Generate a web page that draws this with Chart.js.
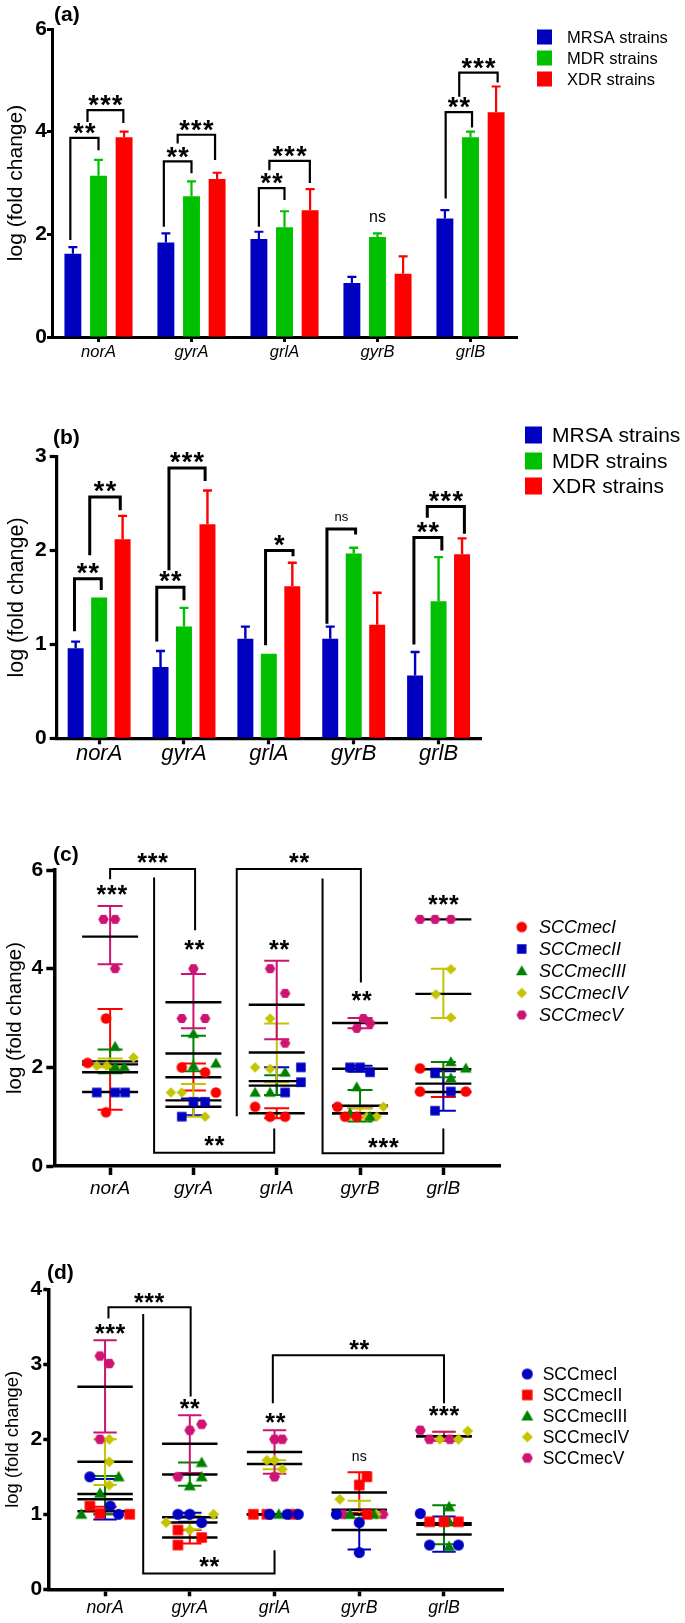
<!DOCTYPE html>
<html><head><meta charset="utf-8">
<script src="https://cdn.jsdelivr.net/npm/chart.js@4.4.0/dist/chart.umd.min.js"></script>
<style>
html,body{margin:0;padding:0;background:#fff;}
body{width:685px;height:1623px;position:relative;overflow:hidden;}
canvas{position:absolute;left:0;}
</style></head><body>
<canvas id="ca" width="685" height="380" style="top:0px"></canvas>
<canvas id="cb" width="685" height="410" style="top:380px"></canvas>
<canvas id="cc" width="685" height="420" style="top:790px"></canvas>
<canvas id="cd" width="685" height="413" style="top:1210px"></canvas>
<script>
// ================= DATA =================
const genes = ['norA', 'gyrA', 'grlA', 'gyrB', 'grlB'];
const groupNames = ['MRSA strains', 'MDR strains', 'XDR strains'];

// panel (a)
const aMRSA    = [1.62, 1.84, 1.91, 1.05, 2.31];
const aMRSAerr = [0.13, 0.18, 0.14, 0.12, 0.16];
const aMDR     = [3.14, 2.74, 2.14, 1.95, 3.89];
const aMDRerr  = [0.31, 0.29, 0.31, 0.07, 0.11];
const aXDR     = [3.89, 3.08, 2.47, 1.23, 4.38];
const aXDRerr  = [0.11, 0.12, 0.41, 0.34, 0.50];
const aYTicks  = [0, 2, 4, 6];
// [gene, left leg (bar slots from MRSA bar), right leg, top, left foot, right foot, label]
const aBrackets = [
  [0, -0.10, 1.00, 3.88, 1.89, 3.64, '**'],
  [0,  0.57, 1.97, 4.42, 4.19, 4.17, '***'],
  [1, -0.08, 1.00, 3.42, 2.15, 3.19, '**'],
  [1,  0.46, 1.92, 3.94, 3.77, 3.45, '***'],
  [2,  0.00, 1.00, 2.90, 2.15, 2.67, '**'],
  [2,  0.41, 1.99, 3.43, 3.25, 3.00, '***'],
  [4,  0.03, 1.06, 4.38, 2.70, 4.08, '**'],
  [4,  0.56, 2.06, 5.15, 4.68, 4.96, '***']
];
const aNotes = [[3, 1, 2.32, 'ns']];

// panel (b)
const bMRSA    = [0.96, 0.76, 1.06, 1.06, 0.67];
const bMRSAerr = [0.07, 0.17, 0.13, 0.13, 0.25];
const bMDR     = [1.50, 1.19, 0.90, 1.97, 1.46];
const bMDRerr  = [0.00, 0.20, 0.00, 0.06, 0.47];
const bXDR     = [2.12, 2.28, 1.62, 1.21, 1.96];
const bXDRerr  = [0.25, 0.36, 0.25, 0.34, 0.17];
const bYTicks  = [0, 1, 2, 3];
const bBrackets = [
  [0, -0.05, 1.09, 1.70, 1.14, 1.58, '**'],
  [0,  0.60, 1.90, 2.57, 1.95, 2.43, '**'],
  [1, -0.16, 1.00, 1.61, 1.03, 1.47, '**'],
  [1,  0.36, 1.90, 2.88, 1.79, 2.74, '***'],
  [2,  0.86, 2.03, 2.00, 0.99, 1.94, '*'],
  [3, -0.14, 1.08, 2.23, 1.22, 2.17, 'ns'],
  [4, -0.05, 1.14, 2.14, 1.00, 2.00, '**'],
  [4,  0.52, 2.10, 2.47, 2.35, 2.18, '***']
];
const bNotes = [];

// panel (c)  points: [gene, jitter, log fold change]
const cTypes = ['SCCmecI', 'SCCmecII', 'SCCmecIII', 'SCCmecIV', 'SCCmecV'];
const cTypeI   = [[0,-0.05,2.99],[0,-0.27,2.09],[0,-0.05,1.09],[1,-0.14,2.00],[1,0.14,1.90],[1,0.27,1.49],[2,-0.26,1.20],[2,-0.08,1.00],[2,0.10,1.00],[3,-0.27,1.20],[3,-0.18,1.00],[3,-0.04,1.00],[4,-0.28,1.98],[4,-0.28,1.51],[4,0.27,1.51]];
const cTypeII  = [[0,-0.16,1.49],[0,0.06,1.49],[0,0.18,1.49],[1,-0.14,1.00],[1,0.00,1.30],[1,0.14,1.30],[2,0.29,2.00],[2,0.29,1.70],[2,0.10,1.49],[3,-0.12,2.00],[3,0.00,2.00],[3,0.12,1.90],[4,-0.10,1.89],[4,0.09,1.51],[4,-0.10,1.12]];
const cTypeIII = [[0,0.06,2.42],[0,0.06,2.01],[0,0.17,2.01],[1,0.00,2.68],[1,0.27,2.08],[1,0.00,2.03],[2,-0.26,1.49],[2,-0.08,1.49],[2,0.10,1.90],[3,-0.04,1.60],[3,-0.12,1.07],[3,0.12,1.00],[4,0.09,2.11],[4,0.27,1.98],[4,0.09,1.78]];
const cTypeIV  = [[0,-0.16,2.03],[0,-0.04,2.03],[0,0.28,2.20],[1,-0.27,1.49],[1,-0.14,1.49],[1,0.14,1.00],[2,-0.08,2.99],[2,-0.26,2.00],[2,-0.08,1.97],[3,0.28,1.20],[3,0.20,1.00],[3,0.08,1.00],[4,0.09,3.99],[4,-0.09,3.48],[4,0.09,3.01]];
const cTypeV   = [[0,-0.08,5.00],[0,0.06,5.00],[0,0.06,4.00],[1,-0.14,2.99],[1,0.14,2.99],[1,0.00,4.00],[2,-0.08,4.00],[2,0.10,3.50],[2,0.10,2.49],[3,-0.04,2.79],[3,0.04,2.99],[3,0.12,2.89],[4,-0.28,5.00],[4,-0.10,5.00],[4,0.09,5.00]];
// summaries: [gene, mean, lower SD, upper SD]
const cStatI   = [[0,2.06,1.14,3.18],[1,1.80,1.53,2.08],[2,1.07,0.97,1.17],[3,1.07,0.97,1.17],[4,1.67,1.40,1.97]];
const cStatII  = [[0,1.50,1.50,1.50],[1,1.20,1.03,1.37],[2,1.72,1.44,2.00],[3,1.97,1.91,2.03],[4,1.50,1.12,1.92]];
const cStatIII = [[0,2.12,1.88,2.36],[1,2.28,1.92,2.64],[2,1.63,1.44,1.84],[3,1.22,0.90,1.54],[4,1.96,1.80,2.11]];
const cStatIV  = [[0,1.90,2.00,2.18],[1,1.33,1.00,1.66],[2,2.30,1.70,2.89],[3,1.07,0.97,1.17],[4,3.49,3.00,4.00]];
const cStatV   = [[0,4.65,4.09,5.27],[1,3.32,2.79,3.89],[2,3.27,2.57,4.16],[3,2.90,2.79,3.00],[4,5.00,5.00,5.00]];
const cYTicks  = [0, 2, 4, 6];
const cBrackets = [
  [[0,5.81],[0,6.02],[1.02,6.02],[1.02,4.78]],
  [[0.528,5.85],[0.528,0.27],[1.97,0.27],[1.97,0.76]],
  [[1.52,1.01],[1.52,6.02],[3.01,6.02],[3.01,3.72]],
  [[2.55,5.83],[2.55,0.26],[4.0,0.26],[4.0,0.76]]
];
const cBracketLabels = [[0.51,6.26,'***'],[1.25,0.53,'**'],[2.27,6.26,'**'],[3.28,0.49,'***']];
const cGroupLabels = [[0.02,5.61,'***'],[1.01,4.50,'**'],[2.03,4.50,'**'],[3.02,3.47,'**'],[4.0,5.41,'***']];

// panel (d)
const dTypes = ['SCCmecI', 'SCCmecII', 'SCCmecIII', 'SCCmecIV', 'SCCmecV'];
const dTypeI   = [[0,-0.18,1.50],[0,0.06,1.11],[0,0.16,1.00],[1,-0.14,1.00],[1,0.00,1.00],[1,0.14,0.89],[2,-0.06,1.00],[2,0.15,1.00],[2,0.28,1.00],[3,-0.27,1.00],[3,0.00,0.89],[3,0.00,0.49],[4,-0.28,1.01],[4,-0.17,0.59],[4,0.17,0.59]];
const dTypeII  = [[0,-0.18,1.11],[0,-0.06,1.01],[0,0.29,1.00],[1,-0.14,0.79],[1,-0.14,0.59],[1,0.14,0.69],[2,-0.25,1.00],[2,-0.09,1.00],[2,0.22,1.00],[3,0.09,1.50],[3,0.00,1.39],[3,0.09,1.00],[4,-0.17,0.90],[4,0.00,0.90],[4,0.17,0.90]];
const dTypeIII = [[0,-0.28,1.00],[0,-0.06,1.28],[0,0.16,1.50],[1,0.14,1.69],[1,0.14,1.50],[1,0.00,1.38],[2,0.05,1.00],[3,-0.11,1.00],[3,0.17,1.00],[4,0.06,1.10],[4,0.06,0.90],[4,0.06,0.57]];
const dTypeIV  = [[0,0.05,2.00],[0,0.05,1.70],[0,0.05,1.39],[1,-0.28,0.89],[1,0.28,1.00],[1,0.00,0.79],[2,-0.09,1.72],[2,0.00,1.72],[2,0.09,1.60],[3,-0.23,1.20],[3,0.20,1.00],[4,0.28,2.11],[4,-0.05,2.00],[4,0.17,2.00]];
const dTypeV   = [[0,-0.06,3.11],[0,0.05,3.01],[0,-0.06,2.00],[1,0.00,2.12],[1,0.14,2.20],[1,-0.14,1.50],[2,0.00,2.00],[2,0.09,2.00],[2,0.00,1.50],[3,-0.19,1.00],[3,0.28,1.00],[4,-0.28,2.12],[4,-0.17,2.00],[4,0.07,2.00]];
const dStatI   = [[0,1.20,0.93,1.47],[1,0.96,0.90,1.02],[2,1.00,1.00,1.00],[3,0.79,0.53,1.06],[4,0.73,0.50,0.97]];
const dStatII  = [[0,1.04,1.00,1.10],[1,0.69,0.61,0.79],[2,1.00,1.00,1.00],[3,1.29,1.02,1.56],[4,0.88,0.88,0.88]];
const dStatIII = [[0,1.27,1.00,1.51],[1,1.53,1.38,1.69],[2,1.00,1.00,1.00],[3,1.00,1.00,1.00],[4,0.86,0.60,1.12]];
const dStatIV  = [[0,1.70,1.39,2.00],[1,0.89,0.80,0.98],[2,1.67,1.60,1.72],[3,1.06,0.95,1.18],[4,2.04,1.98,2.10]];
const dStatV   = [[0,2.70,2.09,3.32],[1,1.94,1.55,2.32],[2,1.83,1.54,2.12],[3,1.00,1.00,1.00],[4,2.04,1.98,2.10]];
const dYTicks  = [0, 1, 2, 3, 4];
const dBrackets = [
  [[0.04,3.61],[0.04,3.76],[1.01,3.76],[1.01,2.57]],
  [[0.45,3.67],[0.45,0.21],[2.0,0.21],[2.0,0.52]],
  [[1.98,2.48],[1.98,3.12],[4.0,3.12],[4.0,2.48]]
];
const dBracketLabels = [[0.52,3.90,'***'],[1.23,0.38,'**'],[3.0,3.27,'**']];
const dGroupLabels = [[0.06,3.49,'***'],[1.0,2.48,'**'],[2.01,2.30,'**'],[3.0,1.76,'ns'],[4.0,2.39,'***']];

// ================= HELPERS =================
const FONT = "'Liberation Sans', Arial, Helvetica, sans-serif";
Chart.defaults.font.family = FONT;
Chart.defaults.color = '#000';

function marker(shape, color, d) {
  const s = Math.ceil(d + 2);
  const c = document.createElement('canvas'); c.width = s; c.height = s;
  const g = c.getContext('2d'); g.fillStyle = color;
  const m = s / 2, r = d / 2;
  g.beginPath();
  if (shape === 'circle') g.arc(m, m, r, 0, Math.PI * 2);
  else if (shape === 'square') g.rect(m - r, m - r, 2 * r, 2 * r);
  else if (shape === 'triangle') { g.moveTo(m, m - r); g.lineTo(m + r, m + r * 0.75); g.lineTo(m - r, m + r * 0.75); }
  else if (shape === 'diamond') { g.moveTo(m, m - r); g.lineTo(m + r, m); g.lineTo(m, m + r); g.lineTo(m - r, m); }
  else if (shape === 'hexagon') { for (let k = 0; k < 6; k++) { const a = k * Math.PI / 3; const px = m + r * Math.cos(a), py = m + r * Math.sin(a); k ? g.lineTo(px, py) : g.moveTo(px, py); } }
  g.closePath(); g.fill();
  return c;
}

function drawLabel(ctx, lab, cx, cy, P) {
  ctx.fillStyle = '#000';
  if (lab === 'ns') {
    ctx.font = `${P.nsSize}px ${FONT}`; ctx.textAlign = 'center'; ctx.textBaseline = 'middle';
    ctx.fillText('ns', cx, cy); return;
  }
  ctx.font = `bold ${P.starSize}px ${FONT}`; ctx.textAlign = 'center'; ctx.textBaseline = 'alphabetic';
  for (let i = 0; i < lab.length; i++) ctx.fillText('*', cx + (i - (lab.length - 1) / 2) * P.starGap, cy + P.starSize * 0.56);
}

function panelLetter(ctx, P) {
  ctx.fillStyle = '#000'; ctx.font = `bold ${P.letterSize}px ${FONT}`;
  ctx.textAlign = 'left'; ctx.textBaseline = 'middle';
  ctx.fillText(P.letter, P.letterX, P.letterY);
}

function axisOpts(P, isX) {
  return {
    grid: { display: true, drawOnChartArea: false, offset: false, tickLength: isX ? P.xTick : P.yTick, tickWidth: P.axisW, tickColor: '#000' },
    border: { display: true, width: P.axisW, color: '#000' }
  };
}

// ================= BAR PANELS =================
function barChart(id, P) {
  const deco = {
    id: 'barDeco',
    afterDatasetsDraw(chart) {
      const ctx = chart.ctx, y = chart.scales.y;
      ctx.save(); ctx.lineCap = 'butt';
      chart.data.datasets.forEach((ds, di) => {
        chart.getDatasetMeta(di).data.forEach((bar, j) => {
          const e = P.errs[di][j]; if (!e) return;
          const yt = y.getPixelForValue(ds.data[j] + e);
          ctx.strokeStyle = ds.backgroundColor; ctx.lineWidth = P.errW;
          ctx.beginPath(); ctx.moveTo(bar.x, bar.y); ctx.lineTo(bar.x, yt);
          ctx.moveTo(bar.x - P.cap, yt); ctx.lineTo(bar.x + P.cap, yt); ctx.stroke();
        });
      });
      ctx.strokeStyle = '#000'; ctx.lineWidth = P.brW; ctx.lineJoin = 'miter';
      P.brackets.forEach(([g, t1, t2, top, f1, f2, lab]) => {
        const x0 = chart.getDatasetMeta(0).data[g].x, x1 = chart.getDatasetMeta(1).data[g].x;
        const slot = x1 - x0, xa = x0 + t1 * slot, xb = x0 + t2 * slot, yt = y.getPixelForValue(top);
        ctx.beginPath(); ctx.moveTo(xa, y.getPixelForValue(f1)); ctx.lineTo(xa, yt); ctx.lineTo(xb, yt); ctx.lineTo(xb, y.getPixelForValue(f2)); ctx.stroke();
        drawLabel(ctx, lab, (xa + xb) / 2, yt - P.labGap, P);
      });
      P.notes.forEach(([g, b, v, lab]) => drawLabel(ctx, lab, chart.getDatasetMeta(b).data[g].x, y.getPixelForValue(v), P));
      ctx.restore();
    },
    afterDraw(chart) {
      const ctx = chart.ctx; ctx.save();
      chart.data.datasets.forEach((ds, i) => {
        const cy = P.legY[i];
        ctx.fillStyle = ds.backgroundColor; ctx.fillRect(P.legX, cy - P.legSq / 2, P.legSq, P.legSq);
        ctx.fillStyle = '#000'; ctx.font = `${P.legFont}px ${FONT}`; ctx.textAlign = 'left'; ctx.textBaseline = 'middle';
        ctx.fillText(ds.label, P.legTextX, cy + 1);
      });
      panelLetter(ctx, P);
      ctx.restore();
    }
  };
  const xa = axisOpts(P, true), ya = axisOpts(P, false);
  return new Chart(document.getElementById(id), {
    type: 'bar',
    data: {
      labels: genes,
      datasets: P.series.map((s, i) => ({ label: groupNames[i], data: s, backgroundColor: P.colors[i], borderWidth: 0, categoryPercentage: P.catPct, barPercentage: P.barPct }))
    },
    options: {
      responsive: false, animation: false, events: [],
      layout: { padding: P.pad },
      plugins: { legend: { display: false }, tooltip: { enabled: false } },
      scales: {
        x: Object.assign(xa, {
          ticks: { font: { size: P.xFont, style: 'italic' }, color: '#000', padding: P.xPad, maxRotation: 0, autoSkip: false },
          afterFit: s => { s.height = P.xH; }
        }),
        y: Object.assign(ya, {
          min: 0, max: P.yTicks[P.yTicks.length - 1],
          afterBuildTicks: s => { s.ticks = P.yTicks.map(v => ({ value: v })); },
          ticks: { font: { size: P.yFont, weight: 'bold' }, color: '#000', padding: P.yPad },
          title: { display: true, text: 'log (fold change)', font: { size: P.titleSize }, color: '#000', padding: { top: P.titlePad, bottom: 0 } },
          afterFit: s => { s.width = P.yW; }
        })
      }
    },
    plugins: [deco]
  });
}

barChart('ca', {
  series: [aMRSA, aMDR, aXDR], errs: [aMRSAerr, aMDRerr, aXDRerr], brackets: aBrackets, notes: aNotes, yTicks: aYTicks,
  colors: ['#0000C0', '#00C000', '#FF0000'], catPct: 0.826, barPct: 0.66,
  pad: { top: 29, right: 168, bottom: 13, left: 0 }, xH: 30, yW: 52,
  axisW: 3, xTick: 5, yTick: 5, xPad: 1, yPad: 0, xFont: 16.5, yFont: 21, titleSize: 21, titlePad: 4,
  errW: 2.2, cap: 4.5, brW: 2.2, labGap: 11, starSize: 27, starGap: 11.8, nsSize: 16,
  legX: 537, legSq: 15, legTextX: 567, legY: [37, 58, 79], legFont: 16.5,
  letter: '(a)', letterX: 54, letterY: 15, letterSize: 21
});

barChart('cb', {
  series: [bMRSA, bMDR, bXDR], errs: [bMRSAerr, bMDRerr, bXDRerr], brackets: bBrackets, notes: bNotes, yTicks: bYTicks,
  colors: ['#0000C0', '#00C000', '#FF0000'], catPct: 0.83, barPct: 0.68,
  pad: { top: 76.7, right: 204, bottom: 16.7, left: 0 }, xH: 35, yW: 56.7,
  axisW: 3.2, xTick: 6, yTick: 7, xPad: -4, yPad: 3, xFont: 22, yFont: 21, titleSize: 21.5, titlePad: 3.8,
  errW: 2.4, cap: 4.5, brW: 3, labGap: 12, starSize: 27, starGap: 11.8, nsSize: 13,
  legX: 525, legSq: 17, legTextX: 552, legY: [55, 81, 106], legFont: 21,
  letter: '(b)', letterX: 53, letterY: 58, letterSize: 21
});

// ================= SCATTER PANELS =================
function scatterChart(id, P) {
  const deco = {
    id: 'scatDeco',
    beforeDatasetsDraw(chart) {
      const { ctx, scales: { x, y } } = chart;
      ctx.save(); ctx.lineCap = 'butt';
      P.stats.forEach((st, si) => st.forEach(([g, mean, lo, hi]) => {
        if (!(hi > lo)) return;
        const px = x.getPixelForValue(g), yl = y.getPixelForValue(lo), yh = y.getPixelForValue(hi);
        ctx.strokeStyle = P.colors[si]; ctx.lineWidth = P.sdW;
        ctx.beginPath(); ctx.moveTo(px, yl); ctx.lineTo(px, yh);
        ctx.moveTo(px - P.capHalf, yl); ctx.lineTo(px + P.capHalf, yl);
        ctx.moveTo(px - P.capHalf, yh); ctx.lineTo(px + P.capHalf, yh); ctx.stroke();
      }));
      ctx.strokeStyle = '#000'; ctx.lineWidth = P.meanW;
      P.stats.forEach(st => st.forEach(([g, mean]) => {
        const px = x.getPixelForValue(g), py = y.getPixelForValue(mean);
        ctx.beginPath(); ctx.moveTo(px - P.meanHalf, py); ctx.lineTo(px + P.meanHalf, py); ctx.stroke();
      }));
      ctx.restore();
    },
    afterDatasetsDraw(chart) {
      const { ctx, scales: { x, y } } = chart;
      ctx.save(); ctx.strokeStyle = '#000'; ctx.lineWidth = P.brW; ctx.lineJoin = 'miter';
      P.brackets.forEach(pts => {
        ctx.beginPath();
        pts.forEach(([vx, vy], k) => { const px = x.getPixelForValue(vx), py = y.getPixelForValue(vy); k ? ctx.lineTo(px, py) : ctx.moveTo(px, py); });
        ctx.stroke();
      });
      P.bracketLabels.concat(P.groupLabels).forEach(([vx, vy, lab]) => drawLabel(ctx, lab, x.getPixelForValue(vx), y.getPixelForValue(vy), P));
      ctx.restore();
    },
    afterDraw(chart) {
      const ctx = chart.ctx; ctx.save();
      chart.data.datasets.forEach((ds, i) => {
        const cy = P.legY0 + i * P.legStep, img = ds.pointStyle;
        ctx.drawImage(img, P.legX - img.width / 2, cy - img.height / 2);
        ctx.fillStyle = '#000'; ctx.font = `${P.legItalic ? 'italic ' : ''}${P.legFont}px ${FONT}`;
        ctx.textAlign = 'left'; ctx.textBaseline = 'middle';
        ctx.fillText(ds.label, P.legTextX, cy + 1);
      });
      panelLetter(ctx, P);
      ctx.restore();
    }
  };
  const xa = axisOpts(P, true), ya = axisOpts(P, false);
  return new Chart(document.getElementById(id), {
    type: 'scatter',
    data: {
      datasets: P.points.map((pts, si) => ({
        label: P.types[si],
        data: pts.map(([g, j, v]) => ({ x: g + j, y: v })),
        pointStyle: marker(P.shapes[si], P.colors[si], P.sizes[si]), pointRadius: 6, showLine: false
      }))
    },
    options: {
      responsive: false, animation: false, events: [],
      layout: { padding: P.pad },
      plugins: { legend: { display: false }, tooltip: { enabled: false } },
      scales: {
        x: Object.assign(xa, {
          type: 'linear', min: P.xMin, max: P.xMax,
          afterBuildTicks: s => { s.ticks = genes.map((g, i) => ({ value: i })); },
          ticks: { callback: (v, i) => genes[i], font: { size: P.xFont, style: 'italic' }, color: '#000', padding: P.xPad, maxRotation: 0, autoSkip: false },
          afterFit: s => { s.height = P.xH; }
        }),
        y: Object.assign(ya, {
          min: 0, max: P.yTicks[P.yTicks.length - 1],
          afterBuildTicks: s => { s.ticks = P.yTicks.map(v => ({ value: v })); },
          ticks: { font: { size: P.yFont, weight: 'bold' }, color: '#000', padding: P.yPad },
          title: { display: true, text: 'log (fold change)', font: { size: P.titleSize }, color: '#000', padding: { top: P.titlePad, bottom: 0 } },
          afterFit: s => { s.width = P.yW; }
        })
      }
    },
    plugins: [deco]
  });
}

scatterChart('cc', {
  types: cTypes, points: [cTypeI, cTypeII, cTypeIII, cTypeIV, cTypeV], stats: [cStatI, cStatII, cStatIII, cStatIV, cStatV],
  shapes: ['circle', 'square', 'triangle', 'diamond', 'hexagon'],
  colors: ['#FF0000', '#0000C0', '#008000', '#C4C400', '#CD1472'], sizes: [10.5, 9.5, 11.5, 10.5, 10.5],
  brackets: cBrackets, bracketLabels: cBracketLabels, groupLabels: cGroupLabels, yTicks: cYTicks,
  xMin: -0.67, xMax: 4.68,
  pad: { top: 80, right: 185, bottom: 8, left: 0 }, xH: 36, yW: 54.3,
  axisW: 3.5, xTick: 9, yTick: 8, xPad: 2, yPad: 3, xFont: 19, yFont: 21, titleSize: 20.4, titlePad: 2.8,
  sdW: 2, capHalf: 12.5, meanW: 2.4, meanHalf: 28, brW: 2, starSize: 25, starGap: 10.5, nsSize: 14,
  legX: 521.7, legY0: 137, legStep: 22, legTextX: 539, legFont: 18, legItalic: true,
  letter: '(c)', letterX: 53, letterY: 65, letterSize: 21
});

scatterChart('cd', {
  types: dTypes, points: [dTypeI, dTypeII, dTypeIII, dTypeIV, dTypeV], stats: [dStatI, dStatII, dStatIII, dStatIV, dStatV],
  shapes: ['circle', 'square', 'triangle', 'diamond', 'hexagon'],
  colors: ['#0000C0', '#FF0000', '#008000', '#C4C400', '#CD1472'], sizes: [11, 10.5, 12, 11, 11],
  brackets: dBrackets, bracketLabels: dBracketLabels, groupLabels: dGroupLabels, yTicks: dYTicks,
  xMin: -0.67, xMax: 4.70,
  pad: { top: 79.3, right: 181.7, bottom: 3.7, left: 0 }, xH: 30, yW: 48.3,
  axisW: 3.5, xTick: 7, yTick: 5, xPad: 1, yPad: 1, xFont: 17.7, yFont: 21, titleSize: 18.4, titlePad: 2.3,
  sdW: 2, capHalf: 11.7, meanW: 2.4, meanHalf: 27.7, brW: 2, starSize: 25, starGap: 10.3, nsSize: 14,
  legX: 527.3, legY0: 164, legStep: 21, legTextX: 542.7, legFont: 17.5, legItalic: false,
  letter: '(d)', letterX: 47, letterY: 63, letterSize: 21
});
</script>
</body></html>
